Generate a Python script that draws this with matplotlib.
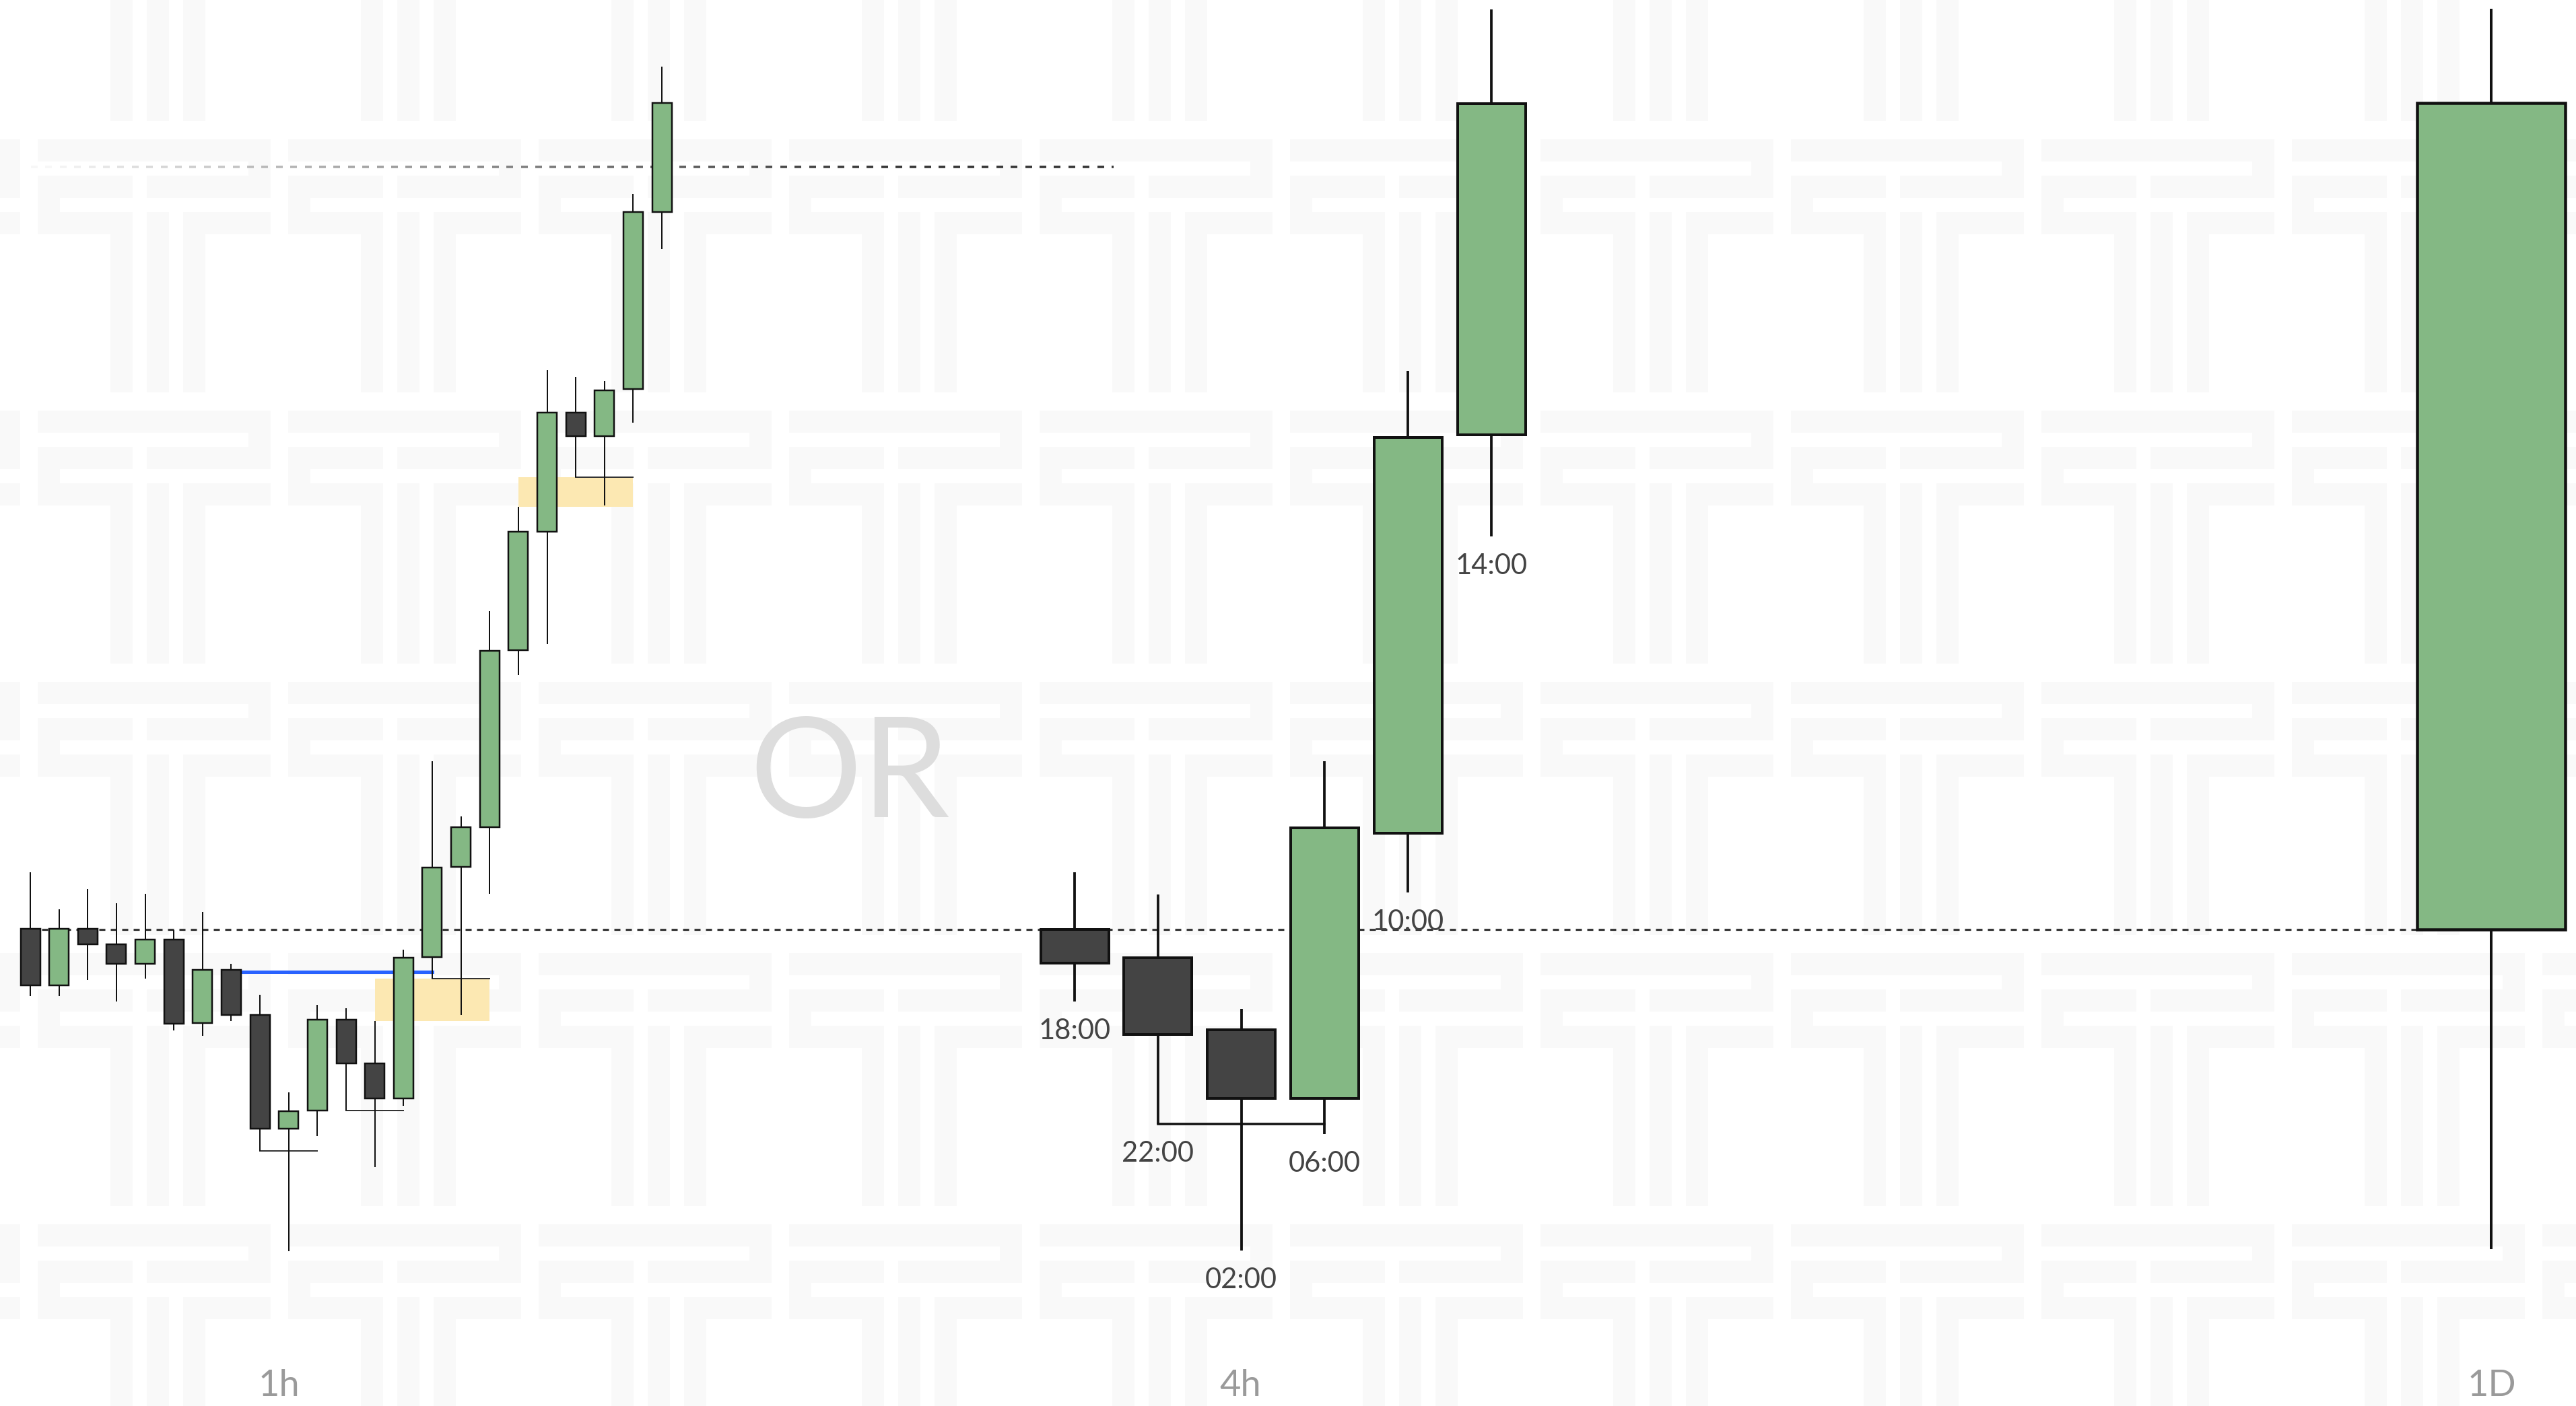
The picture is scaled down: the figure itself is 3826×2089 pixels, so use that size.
import numpy as np
import matplotlib.pyplot as plt
from matplotlib.patches import Rectangle
from matplotlib.collections import PatchCollection, LineCollection

# ---- data (prices) ----
# 1h candles
h1_open  = [5001, 4917, 5001, 4978, 4949, 4985, 4861, 4940, 4873, 4704, 4731, 4866, 4801, 4749, 4959, 5093, 5152, 5415, 5591, 5768, 5733, 5803, 6066]
h1_high  = [5085, 5030, 5060, 5039, 5053, 4999, 5026, 4949, 4903, 4758, 4888, 4883, 4864, 4970, 5250, 5168, 5473, 5628, 5831, 5821, 5815, 6093, 6282]
h1_low   = [4901, 4901, 4925, 4893, 4927, 4850, 4842, 4864, 4671, 4522, 4693, 4731, 4647, 4738, 4927, 4873, 5053, 5378, 5424, 5672, 5630, 5753, 6011]
h1_close = [4917, 5001, 4978, 4949, 4985, 4860, 4940, 4873, 4704, 4730, 4866, 4801, 4749, 4958, 5092, 5152, 5414, 5591, 5768, 5733, 5801, 6066, 6228]

# 4h candles
h4_labels = ["18:00", "22:00", "02:00", "06:00", "10:00", "14:00"]
h4_open  = [5000, 4958, 4851, 4749, 5143, 5735]
h4_high  = [5085, 5052, 4882, 5250, 5830, 6367]
h4_low   = [4893, 4711, 4523, 4696, 5055, 5584]
h4_close = [4950, 4844, 4749, 5151, 5731, 6227]

# daily candle
d1_open, d1_high, d1_low, d1_close = 5000, 6368, 4525, 6228

daily_open = 5000
upper_level = 6133
blue_level = 4937

# swept lows: (from candle, to candle), level = low of first
h1_sweeps = [(8, 10), (11, 13), (14, 16), (19, 21)]
h4_sweeps = [(1, 3)]
# fair value gaps: first candle of the 3, box runs to the 5th candle
h1_fvgs = [(12, 16), (17, 21)]

panel_labels = ["1h", "4h", "1D"]

# ---- layout ----
W, H, DPI = 3826, 2089, 100
PX = 72 / DPI
P_TOP = 6381  # price at top edge, 1 price unit per pixel

H1_X0, H1_STEP, H1_W = 45, 42.64, 29
H4_X0, H4_STEP, H4_W = 1596, 123.8, 101
D1_X, D1_W = 3700, 220
LABEL_X = [414, 1842, 3701]

GREEN = "#84b884"
DARK = "#444444"

# watermark tile (x0, x1, y0, y1) relative to tile origin
TILE = [(-108, 238, 0, 33), (205, 238, 33, 54), (-108, 33, 54, 87), (54, 238, 54, 87),
        (-108, -75, 87, 108), (-108, 33, 108, 141), (54, 87, 108, 141), (108, 238, 108, 141),
        (0, 33, 141, 376), (54, 87, 141, 376), (108, 141, 141, 376)]

plt.rcParams['font.family'] = ['Lato', 'DejaVu Sans']

fig = plt.figure(figsize=(W / DPI, H / DPI), dpi=DPI)
fig.patch.set_facecolor("white")

# background axes in pixel coordinates
bg = fig.add_axes([0, 0, 1, 1])
bg.set_xlim(0, W)
bg.set_ylim(H, 0)
bg.axis("off")

patches = []
for i in range(-1, 11):
    for j in range(-1, 6):
        x0 = 164 + 372 * i
        y0 = 207 + 403 * j
        for a, b, c, d in TILE:
            patches.append(Rectangle((x0 + a, y0 + c), b - a, d - c))
bg.add_collection(PatchCollection(patches, facecolor="#f9f9f9", edgecolor="none", zorder=0))

bg.text(1262, 1214, "OR", fontsize=150, color="#dddddd", ha="center", va="baseline", zorder=1)
for x, lab in zip(LABEL_X, panel_labels):
    bg.text(x, 2074, lab, fontsize=39, color="#9a9a9a", ha="center", va="baseline", zorder=1)

# price axes on top
ax = fig.add_axes([0, 0, 1, 1])
ax.set_xlim(0, W)
ax.set_ylim(P_TOP - H, P_TOP)
ax.axis("off")
ax.patch.set_alpha(0)


def candles(xs, o, h, l, c, width, lw_body, lw_wick):
    for x, op, hi, lo, cl in zip(xs, o, h, l, c):
        ax.vlines(x, lo, hi, color="#111111", lw=lw_wick * PX, zorder=3)
        ax.add_patch(Rectangle((x - width / 2, min(op, cl)), width, abs(cl - op),
                               facecolor=GREEN if cl > op else DARK,
                               edgecolor="#111111", lw=lw_body * PX, zorder=4))


h1_x = H1_X0 + H1_STEP * np.arange(len(h1_open))
h4_x = H4_X0 + H4_STEP * np.arange(len(h4_open))

# levels
ax.plot([h1_x[0], D1_X - D1_W / 2], [daily_open, daily_open], color="#3a3a3a",
        lw=3.2 * PX, ls=(0, (9 / 3.2, 8 / 3.2)), zorder=2)

# fading dashed line
xs = np.arange(46, 1654, 21.4)
segs = [[(x, upper_level), (min(x + 10, 1654), upper_level)] for x in xs]
alpha = np.clip((xs - 46) / 1250, 0, 1) ** 0.85
cols = [(0.2, 0.2, 0.2, max(a, 0.04)) for a in alpha]
ax.add_collection(LineCollection(segs, colors=cols, lw=3.5 * PX, zorder=2))

# fair value gaps
for a, b in h1_fvgs:
    lo, hi = h1_high[a], h1_low[a + 2]
    ax.add_patch(Rectangle((h1_x[a], lo), h1_x[b] - h1_x[a], hi - lo,
                           facecolor="#fce8b2", edgecolor="none", zorder=1.5))

ax.plot([h1_x[7], h1_x[14]], [blue_level, blue_level], color="#2962ff", lw=5 * PX, zorder=2.5)

for a, b in h1_sweeps:
    ax.plot([h1_x[a], h1_x[b]], [h1_low[a], h1_low[a]], color="#333333", lw=2 * PX, zorder=3)
for a, b in h4_sweeps:
    ax.plot([h4_x[a], h4_x[b]], [h4_low[a], h4_low[a]], color="#111111", lw=3.5 * PX, zorder=3)

candles(h1_x, h1_open, h1_high, h1_low, h1_close, H1_W, 2.5, 2)
candles(h4_x, h4_open, h4_high, h4_low, h4_close, H4_W, 4, 3.8)
candles([D1_X], [d1_open], [d1_high], [d1_low], [d1_close], D1_W, 4.5, 4)

for x, lo, lab in zip(h4_x, h4_low, h4_labels):
    ax.annotate(lab, (x, lo), xytext=(0, -56 * PX), textcoords="offset points",
                ha="center", va="baseline", fontsize=30, color="#444444", zorder=5)

fig.savefig("out.png", dpi=DPI)
